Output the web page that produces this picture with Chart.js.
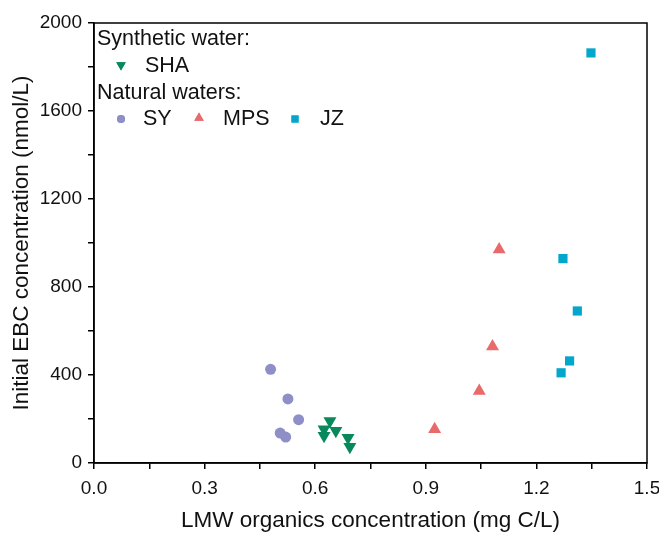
<!DOCTYPE html>
<html>
<head>
<meta charset="utf-8">
<script src="https://cdn.jsdelivr.net/npm/chart.js@4"></script>
<style>
  html, body { margin: 0; padding: 0; background: #fff; }
  #wrap { width: 659px; height: 533px; }
</style>
</head>
<body>
<div id="wrap"><canvas id="myChart" width="659" height="533"></canvas></div>
<script>
// values
const shaX = [0.640, 0.624, 0.656, 0.624, 0.689, 0.694];
const shaY = [191, 153, 147, 124, 115, 74];
const syX = [0.479, 0.526, 0.555, 0.505, 0.520];
const syY = [426, 291, 197, 136, 118];
const mpsX = [1.099, 1.081, 1.045, 0.924];
const mpsY = [971, 529, 327, 153];
const jzX = [1.348, 1.272, 1.311, 1.290, 1.267];
const jzY = [1864, 929, 691, 464, 410];

const xTicks = [0.0, 0.3, 0.6, 0.9, 1.2, 1.5];
const yTicks = [0, 400, 800, 1200, 1600, 2000];

const FONT = "'Liberation Sans', Arial, sans-serif";
const colSHA = 'rgb(8,137,92)';
const colSY = 'rgb(143,143,200)';
const colMPS = 'rgb(233,106,106)';
const colJZ = 'rgb(4,167,204)';

function pts(xs, ys) {
  return xs.map((x, i) => ({ x: x, y: ys[i] }));
}

const data = {
  datasets: [
    { label: 'SHA', data: pts(shaX, shaY), pointStyle: 'triangle', rotation: 180, radius: 7.5,
      backgroundColor: colSHA, borderColor: colSHA, borderWidth: 0 },
    { label: 'SY', data: pts(syX, syY), pointStyle: 'circle', radius: 5.5,
      backgroundColor: colSY, borderColor: colSY, borderWidth: 0 },
    { label: 'MPS', data: pts(mpsX, mpsY), pointStyle: 'triangle', radius: 7.5,
      backgroundColor: colMPS, borderColor: colMPS, borderWidth: 0 },
    { label: 'JZ', data: pts(jzX, jzY), pointStyle: 'rect', radius: 6.5,
      backgroundColor: colJZ, borderColor: colJZ, borderWidth: 0 }
  ]
};

// frame + hand drawn legend
const framePlugin = {
  id: 'frame',
  afterDraw(chart) {
    const ctx = chart.ctx;
    const a = chart.chartArea;
    ctx.save();
    ctx.strokeStyle = '#000';
    ctx.lineWidth = 1.5;
    ctx.strokeRect(a.left, a.top, a.right - a.left, a.bottom - a.top);

    ctx.font = '21.5px ' + FONT;
    ctx.fillStyle = '#111';
    ctx.textBaseline = 'middle';
    ctx.textAlign = 'left';
    ctx.fillText('Synthetic water:', 97, 39);
    ctx.fillText('SHA', 145, 66);
    ctx.fillText('Natural waters:', 97, 93);
    ctx.fillText('SY', 143, 119);
    ctx.fillText('MPS', 223, 119);
    ctx.fillText('JZ', 320, 119);

    const sym = (style, x, y, r, c, rot) => {
      ctx.fillStyle = c;
      ctx.strokeStyle = c;
      Chart.helpers.drawPoint(ctx, { pointStyle: style, radius: r, rotation: rot || 0, borderWidth: 0 }, x, y);
      ctx.fill();
    };
    sym('triangle', 121, 65, 5.5, colSHA, 180);
    sym('circle', 121, 119, 4, colSY);
    sym('triangle', 199, 118, 5.5, colMPS);
    sym('rect', 295, 119, 5, colJZ);
    ctx.restore();
  }
};

const config = {
  type: 'scatter',
  data: data,
  plugins: [framePlugin],
  options: {
    responsive: false,
    animation: false,
    layout: { padding: { top: 23, right: 12, left: 0, bottom: 0 } },
    plugins: { legend: { display: false }, tooltip: { enabled: false } },
    scales: {
      x: {
        min: 0, max: 1.5,
        afterFit: (s) => { s.height = 70; s.paddingLeft = 0; s.paddingRight = 0; },
        border: { display: true, color: '#000', width: 1.5 },
        grid: { drawOnChartArea: false, drawTicks: true, tickLength: 6, color: '#000', lineWidth: 1.5 },
        ticks: {
          stepSize: 0.15, autoSkip: false, maxRotation: 0, padding: 8,
          color: '#111', font: { family: FONT, size: 19 },
          callback: (v, i) => (i % 2 ? '' : xTicks[i / 2].toFixed(1))
        },
        title: { display: true, text: 'LMW organics concentration (mg C/L)', color: '#111',
          font: { family: FONT, size: 22.5 }, padding: { top: 6, bottom: -1 } }
      },
      y: {
        min: 0, max: 2000,
        afterFit: (s) => { s.width = 94; },
        border: { display: true, color: '#000', width: 1.5 },
        grid: { drawOnChartArea: false, drawTicks: true, tickLength: 6, color: '#000', lineWidth: 1.5 },
        ticks: {
          stepSize: 200, autoSkip: false, padding: 6,
          color: '#111', font: { family: FONT, size: 19 },
          callback: (v, i) => (i % 2 ? '' : String(yTicks[i / 2]))
        },
        title: { display: true, text: 'Initial EBC concentration (nmol/L)', color: '#111',
          font: { family: FONT, size: 22.5 }, padding: { top: 8, bottom: 0 } }
      }
    }
  }
};

const myChart = new Chart(document.getElementById('myChart'), config);
</script>
</body>
</html>
